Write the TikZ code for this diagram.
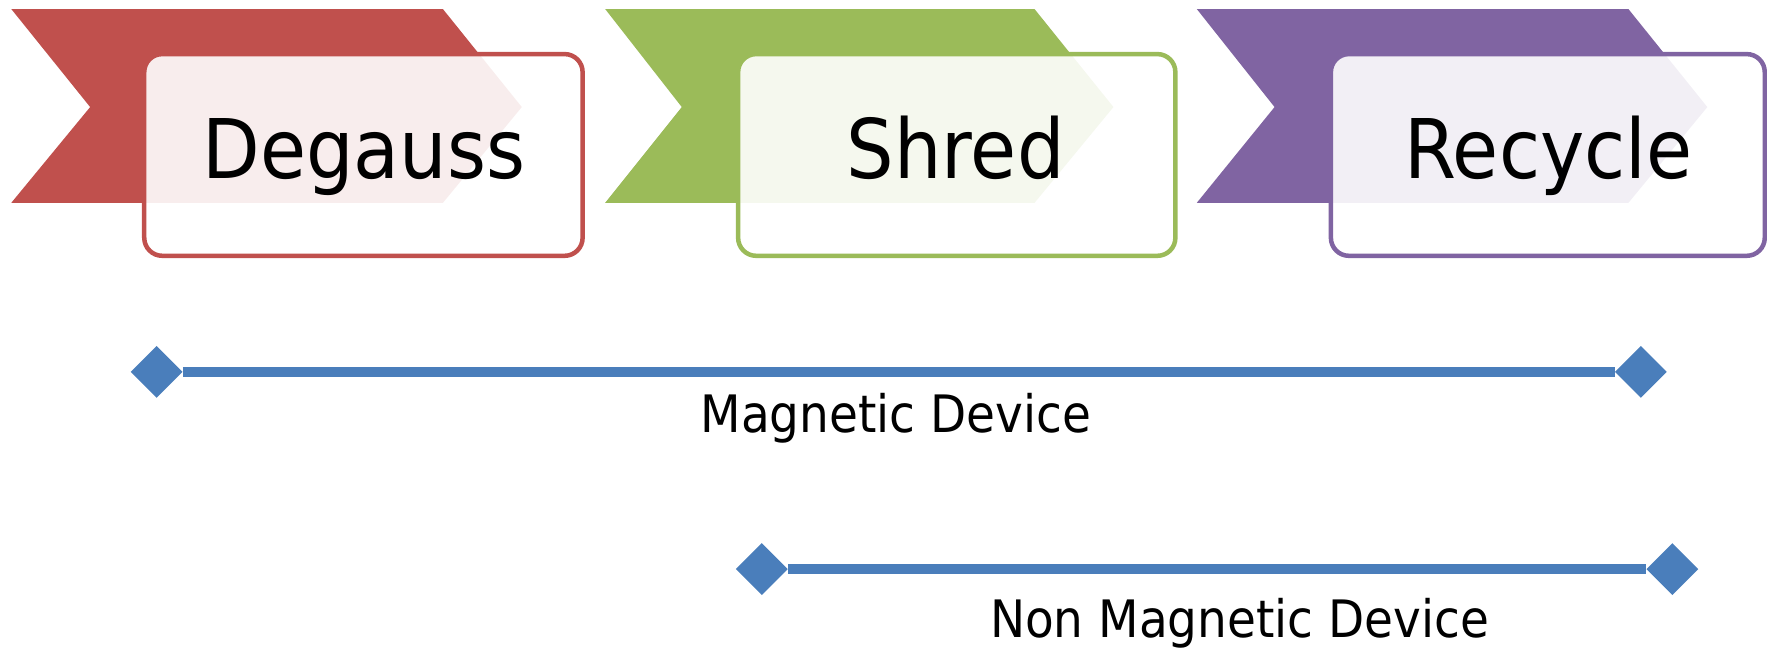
\documentclass[tikz,border=0pt]{standalone}
\usepackage{fontspec}
\setmainfont[FakeStretch=0.91]{DejaVu Sans}
\usetikzlibrary{shapes.geometric}
\definecolor{cred}{HTML}{C0504D}
\definecolor{cgreen}{HTML}{9BBB59}
\definecolor{cpurple}{HTML}{8064A2}
\definecolor{cblue}{HTML}{4A7EBB}
\tikzset{
  chev/.style={fill=#1, draw=none},
  card/.style={draw=#1, line width=4.5pt, fill=white, fill opacity=0.9, rounded corners=18pt},
  title/.style={anchor=base, inner sep=0pt, font=\fontsize{82.3pt}{90pt}\selectfont},
  gem/.style={diamond, fill=cblue, draw=none, inner sep=0pt, minimum width=52pt, minimum height=52pt},
  bar/.style={cblue, line width=10.5pt},
  lbl/.style={anchor=base, inner sep=0pt, font=\fontsize{51.6pt}{58pt}\selectfont}
}
\begin{document}
\begin{tikzpicture}[x=1.12691pt,y=-1.12691pt]
\useasboundingbox (0,0) rectangle (1568,575);
% group 1
\fill[chev=cred] (10,8) -- (393,8) -- (463,95) -- (393,180) -- (10,180) -- (80,95) -- cycle;
\draw[card=cred] (128,48) rectangle (517,227);
\node[title] (t1) at (323,158) {Degauss};
% group 2
\fill[chev=cgreen] (537,8) -- (918,8) -- (988,95) -- (918,180) -- (537,180) -- (605,95) -- cycle;
\draw[card=cgreen] (655,48) rectangle (1043,227);
\node[title] (t2) at (848,158) {Shred};
% group 3
\fill[chev=cpurple] (1062,8) -- (1445,8) -- (1515,95) -- (1445,180) -- (1062,180) -- (1131,95) -- cycle;
\draw[card=cpurple] (1181,48) rectangle (1566,227);
\node[title] (t3) at (1374,158) {Recycle};
% magnetic device
\node[gem] (m1) at (139,330) {};
\node[gem] (m2) at (1456,330) {};
\draw[bar] (m1) -- (m2);
\node[lbl] (ml) at (795,384) {Magnetic Device};
% non magnetic device
\node[gem] (n1) at (676,505) {};
\node[gem] (n2) at (1484,505) {};
\draw[bar] (n1) -- (n2);
\node[lbl] (nl) at (1100,566) {Non Magnetic Device};
\end{tikzpicture}
\end{document}
